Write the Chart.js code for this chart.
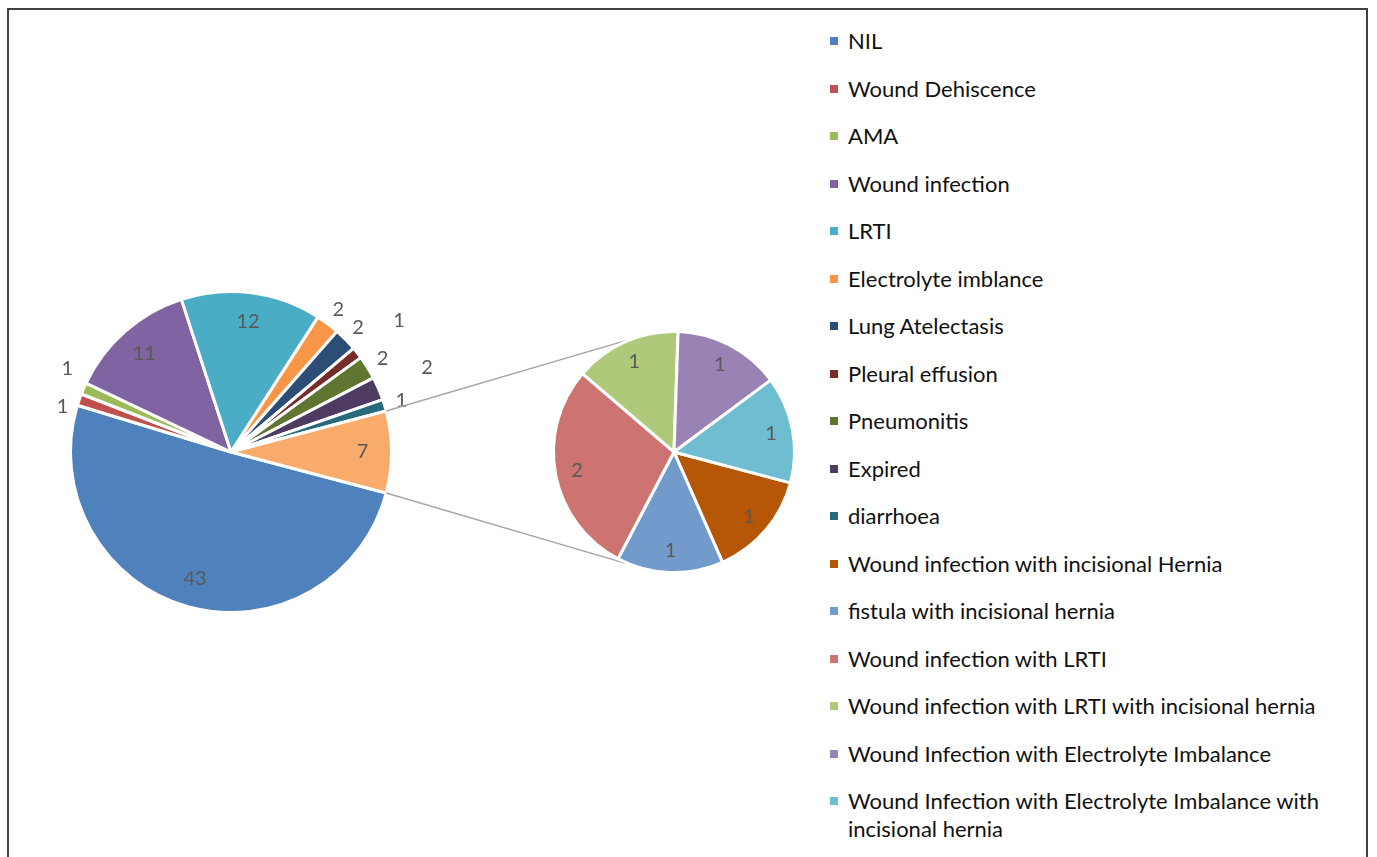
<!DOCTYPE html>
<html>
<head>
<meta charset="utf-8">
<script src="https://cdn.jsdelivr.net/npm/chart.js@4.4.1/dist/chart.umd.min.js"></script>
<style>
    body { margin: 0; background: #fff; font-family: Lato, 'Open Sans', sans-serif; }
    #frame { position: absolute; left: 7px; top: 8px; width: 1361px; height: 900px; border: 2px solid #404040; box-sizing: border-box; }
    #mainChart { position: absolute; left: 0; top: 0; }
    #subChart { position: absolute; left: 540px; top: 318px; }
    #legend { position: absolute; left: 830px; top: 27px; width: 520px; }
    .row { display: flex; align-items: flex-start; height: 47.5px; }
    .swatch { width: 8px; height: 8px; margin-top: 10px; margin-right: 10px; flex: none; }
    .txt { font-size: 22px; line-height: 28px; color: #111; width: 490px; }
</style>
</head>
<body>
<div id="frame"></div>
<canvas id="mainChart" width="800" height="857"></canvas>
<canvas id="subChart" width="268" height="268"></canvas>
<div id="legend"></div>
<script>
// Main pie categories / values
const mainLabels = ['NIL', 'Wound Dehiscence', 'AMA', 'Wound infection', 'LRTI', 'Electrolyte imblance',
    'Lung Atelectasis', 'Pleural effusion', 'Pneumonitis', 'Expired', 'diarrhoea'];
const mainValues = [43, 1, 1, 11, 12, 2, 2, 1, 2, 2, 1];
const mainColors = ['#4F81BD', '#C0504D', '#9BBB59', '#8064A2', '#4BACC6', '#F79646',
    '#2C4D75', '#772C2A', '#5F7530', '#4D3B62', '#276A7C'];

// Secondary pie (split out of the "other" slice)
const subLabels = ['Wound infection with incisional Hernia', 'fistula with incisional hernia', 'Wound infection with LRTI',
    'Wound infection with LRTI with incisional hernia', 'Wound Infection with Electrolyte Imbalance',
    'Wound Infection with Electrolyte Imbalance with incisional hernia'];
const subValues = [1, 1, 2, 1, 1, 1];
const subColors = ['#B65708', '#729ACA', '#CD7371', '#AFC97A', '#9983B5', '#6FBDD1'];
const otherColor = '#F9AB6B';

const otherValue = subValues.reduce((a, b) => a + b, 0);
const total = mainValues.reduce((a, b) => a + b, 0) + otherValue;
// centre the "other" slice on 3 o'clock, like Excel pie-of-pie
const startRotation = 90 + (otherValue / total) * 180;

const LABEL_FONT = '20px Lato';
const LABEL_COLOR = '#595959';

// Value labels: inside for big slices, outside (with simple collision handling) for thin ones
const valueLabels = {
    id: 'valueLabels',
    afterDatasetsDraw(chart) {
        const ctx = chart.ctx;
        const meta = chart.getDatasetMeta(0);
        const values = chart.data.datasets[0].data;
        const items = [];
        const outside = [];
        ctx.save();
        ctx.font = LABEL_FONT;
        meta.data.forEach((arc, i) => {
            const p = arc.getProps(['x', 'y', 'startAngle', 'endAngle', 'outerRadius'], true);
            const mid = (p.startAngle + p.endAngle) / 2;
            const cos = Math.cos(mid), sin = Math.sin(mid);
            const text = String(values[i]);
            if (p.endAngle - p.startAngle > 0.3) {
                items.push({ text, x: p.x + cos * p.outerRadius * 0.82, y: p.y + sin * p.outerRadius * 0.82 });
                return;
            }
            const w = ctx.measureText(text).width + 4, h = 24;
            const lab = { text, w, h, x: p.x + cos * p.outerRadius * 1.11, y: p.y + sin * p.outerRadius * 1.11 };
            const hit = outside.find(o => Math.abs(o.x - lab.x) < (o.w + lab.w) / 2 && Math.abs(o.y - lab.y) < h);
            if (hit) {
                if (cos > 0) {
                    lab.x = p.x + cos * p.outerRadius * 1.33;
                    lab.y = p.y + sin * p.outerRadius * 1.33;
                } else {
                    const m = (hit.y + lab.y) / 2;
                    const up = lab.y < hit.y ? lab : hit;
                    const down = up === lab ? hit : lab;
                    up.y = m - 19;
                    down.y = m + 19;
                }
            }
            outside.push(lab);
            items.push(lab);
        });
        ctx.fillStyle = LABEL_COLOR;
        ctx.textAlign = 'center';
        ctx.textBaseline = 'middle';
        items.forEach(it => ctx.fillText(it.text, it.x, it.y));
        ctx.restore();
    }
};

// Secondary pie first, so the main chart can connect to it
const subCanvas = document.getElementById('subChart');
const subChart = new Chart(subCanvas, {
    type: 'pie',
    data: {
        labels: subLabels,
        datasets: [{ data: subValues, backgroundColor: subColors, borderColor: '#ffffff', borderWidth: 3 }]
    },
    options: {
        responsive: false,
        animation: false,
        rotation: startRotation,
        layout: { padding: 12 },
        plugins: { legend: { display: false }, tooltip: { enabled: false } }
    },
    plugins: [valueLabels]
});

// Connector lines from the "other" slice to the secondary pie (tangents)
const connectors = {
    id: 'connectors',
    afterDraw(chart) {
        const meta = chart.getDatasetMeta(0);
        const other = meta.data[meta.data.length - 1].getProps(['x', 'y', 'startAngle', 'endAngle', 'outerRadius'], true);
        const s = subChart.getDatasetMeta(0).data[0].getProps(['x', 'y', 'outerRadius'], true);
        const cx = s.x + subCanvas.offsetLeft, cy = s.y + subCanvas.offsetTop, R = s.outerRadius;
        const ctx = chart.ctx;
        ctx.save();
        ctx.strokeStyle = '#a6a6a6';
        ctx.lineWidth = 1.5;
        [[other.startAngle, -1], [other.endAngle, 1]].forEach(([ang, sgn]) => {
            const px = other.x + Math.cos(ang) * other.outerRadius;
            const py = other.y + Math.sin(ang) * other.outerRadius;
            const d = Math.hypot(cx - px, cy - py);
            const theta = Math.atan2(cy - py, cx - px);
            const alpha = Math.asin(R / d);
            const len = Math.sqrt(d * d - R * R) * 0.94;
            const a = theta + sgn * alpha;
            ctx.beginPath();
            ctx.moveTo(px, py);
            ctx.lineTo(px + Math.cos(a) * len, py + Math.sin(a) * len);
            ctx.stroke();
        });
        ctx.restore();
    }
};

new Chart(document.getElementById('mainChart'), {
    type: 'pie',
    data: {
        labels: [...mainLabels, 'Other'],
        datasets: [{
            data: [...mainValues, otherValue],
            backgroundColor: [...mainColors, otherColor],
            borderColor: '#ffffff',
            borderWidth: 3
        }]
    },
    options: {
        responsive: false,
        animation: false,
        rotation: startRotation,
        layout: { padding: { left: 69, right: 407, top: 290, bottom: 243 } },
        plugins: { legend: { display: false }, tooltip: { enabled: false } }
    },
    plugins: [valueLabels, connectors]
});

// HTML legend (main categories then the secondary ones)
const legend = document.getElementById('legend');
[...mainLabels, ...subLabels].forEach((label, i) => {
    const color = i < mainLabels.length ? mainColors[i] : subColors[i - mainLabels.length];
    const row = document.createElement('div');
    row.className = 'row';
    row.innerHTML = `<span class="swatch" style="background:${color}"></span><span class="txt"></span>`;
    row.querySelector('.txt').textContent = label;
    legend.appendChild(row);
});
</script>
</body>
</html>
